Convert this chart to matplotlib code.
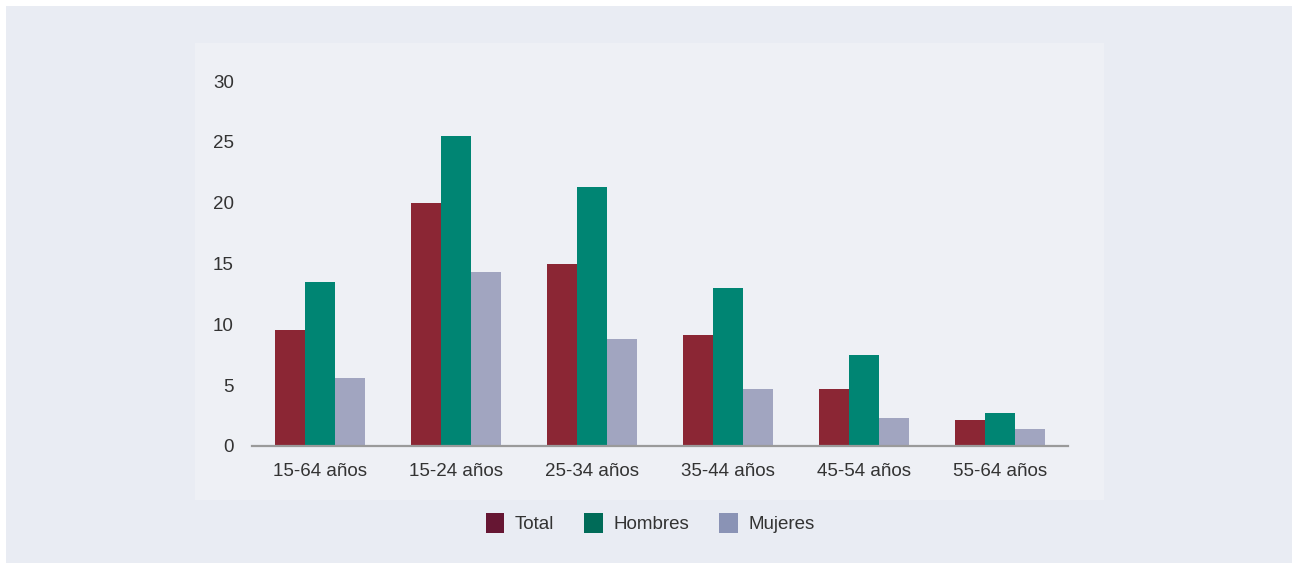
import matplotlib
matplotlib.use("Agg")
import matplotlib.pyplot as plt
from matplotlib.patches import Rectangle, Patch
import numpy as np

categories = ["15-64 años", "15-24 años", "25-34 años", "35-44 años", "45-54 años", "55-64 años"]
total = [9.5, 20.0, 15.0, 9.1, 4.7, 2.1]
hombres = [13.5, 25.5, 21.3, 13.0, 7.5, 2.7]
mujeres = [5.6, 14.3, 8.8, 4.7, 2.3, 1.4]
yticks = [0, 5, 10, 15, 20, 25, 30]

plt.rcParams['font.family'] = ['Liberation Sans', 'DejaVu Sans']

W, H = 1292, 563
fig = plt.figure(figsize=(W / 100, H / 100), dpi=100, facecolor='white')

# outer panel
fig.patches.append(Rectangle((6 / W, 0), 1, (H - 6) / H, transform=fig.transFigure,
                             facecolor='#e9ecf3', edgecolor='none', zorder=-20))
# inner panel
fig.patches.append(Rectangle((195 / W, (H - 500) / H), 909 / W, 457 / H, transform=fig.transFigure,
                             facecolor='#eef0f5', edgecolor='none', zorder=-10))

ax = fig.add_axes([252 / W, (H - 446) / H, (1068 - 252) / W, (446 - 81) / H])
ax.set_facecolor('none')
ax.set_zorder(5)

x = np.arange(len(categories))
w = 0.22
c_total, c_h, c_m = '#8b2634', '#008573', '#a1a5c0'
ax.bar(x - w, total, w, color=c_total, zorder=2)
ax.bar(x, hombres, w, color=c_h, zorder=2)
ax.bar(x + w, mujeres, w, color=c_m, zorder=2)

ax.set_xlim(-0.5, len(categories) - 0.5)
ax.set_ylim(0, 30)
ax.set_yticks(yticks)
ax.set_yticklabels([str(v) for v in yticks])
ax.set_xticks(x)
ax.set_xticklabels(categories)
for s in ['top', 'right', 'left']:
    ax.spines[s].set_visible(False)
ax.spines['bottom'].set_color('#9a9a9a')
ax.spines['bottom'].set_linewidth(1.6)
ax.spines['bottom'].set_zorder(3)
ax.tick_params(axis='both', length=0, labelsize=13.5, labelcolor='#333333')
ax.tick_params(axis='y', pad=13)
ax.tick_params(axis='x', pad=12)

handles = [Patch(facecolor='#661633', label='Total'),
           Patch(facecolor='#006b58', label='Hombres'),
           Patch(facecolor='#8a93b5', label='Mujeres')]
fig.legend(handles=handles, loc='center', bbox_to_anchor=(650 / W, (H - 523) / H),
           ncol=3, frameon=False, fontsize=13.5, handlelength=1.0, handleheight=1.3,
           handletextpad=0.55, columnspacing=1.6, labelcolor='#333333')

fig.savefig('out.png', dpi=100, facecolor=fig.get_facecolor())
